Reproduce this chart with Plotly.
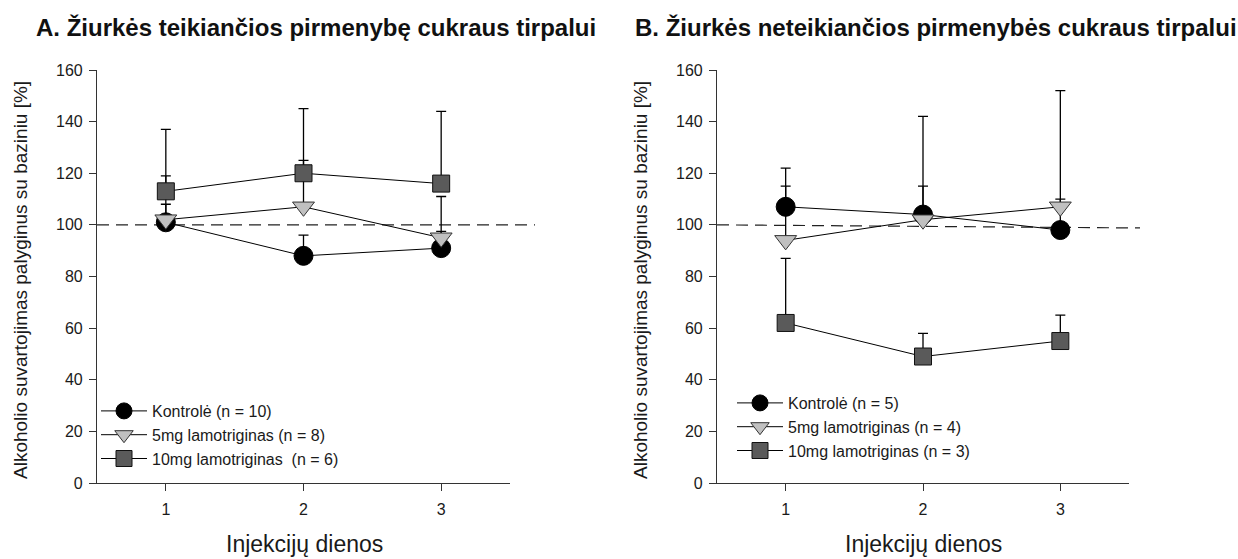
import plotly.graph_objects as go

# Injection days
days = [1, 2, 3]

# Panel A: rats preferring sugar solution (mean % of baseline, upper SEM)
a_kontrole = [101, 88, 91]
a_kontrole_err = [7, 8, 6.5]
a_5mg = [102, 107, 95]
a_5mg_err = [17, 18, 16]
a_10mg = [113, 120, 116]
a_10mg_err = [24, 25, 28]

# Panel B: rats not preferring sugar solution
b_kontrole = [107, 104, 98]
b_kontrole_err = [15, 38, 12]
b_5mg = [94, 102, 107]
b_5mg_err = [21, 13, 45]
b_10mg = [62, 49, 55]
b_10mg_err = [25, 9, 10]

y_ticks = [0, 20, 40, 60, 80, 100, 120, 140, 160]
baseline = 100

names_a = ["Kontrolė (n = 10)", "5mg lamotriginas (n = 8)", "10mg lamotriginas  (n = 6)"]
names_b = ["Kontrolė (n = 5)", "5mg lamotriginas (n = 4)", "10mg lamotriginas (n = 3)"]

FONT = "Arial, Liberation Sans, sans-serif"
W, H = 1238, 559

styles = [
    dict(symbol="circle", size=19, color="#000000", line=dict(color="#000000", width=1)),
    dict(symbol="triangle-down", size=19, color="#c0c0c0", line=dict(color="#333333", width=1)),
    dict(symbol="square", size=17, color="#5a5a5a", line=dict(color="#111111", width=1)),
]

fig = go.Figure()


def add_series(xa, ya, values, errs, name, style, legend, group):
    fig.add_trace(go.Scatter(
        x=days, y=values, mode="lines+markers", name=name,
        xaxis=xa, yaxis=ya, legend=legend, legendgroup=group,
        line=dict(color="#000000", width=1),
        marker=style,
        error_y=dict(type="data", symmetric=False, array=errs,
                     arrayminus=[0] * len(errs), color="#000000",
                     thickness=1.3, width=5),
        cliponaxis=False,
    ))


panel_a = [(a_kontrole, a_kontrole_err), (a_5mg, a_5mg_err), (a_10mg, a_10mg_err)]
panel_b = [(b_kontrole, b_kontrole_err), (b_5mg, b_5mg_err), (b_10mg, b_10mg_err)]

for i, (vals, errs) in enumerate(panel_a):
    add_series("x", "y", vals, errs, names_a[i], styles[i], "legend", f"a{i}")
for i, (vals, errs) in enumerate(panel_b):
    add_series("x2", "y2", vals, errs, names_b[i], styles[i], "legend2", f"b{i}")

# pixel layout of the two plot areas
xa_dom = [97 / W, 510 / W]
xb_dom = [717 / W, 1129 / W]
y_dom = [1 - 483 / H, 1 - 70 / H]

axis_common = dict(
    showline=True, linecolor="#333333", linewidth=1.2,
    ticks="outside", ticklen=7, tickcolor="#333333", tickwidth=1,
    showgrid=False, zeroline=False, automargin=False,
    tickfont=dict(family=FONT, size=16, color="#1a1a1a"),
)

legend_font = dict(family=FONT, size=16, color="#1a1a1a")

fig.update_layout(
    width=W, height=H,
    margin=dict(l=0, r=0, t=0, b=0, autoexpand=False),
    paper_bgcolor="white", plot_bgcolor="white",
    showlegend=True,
    xaxis=dict(domain=xa_dom, range=[0.5, 3.5], tickvals=days,
               ticklabelstandoff=5, anchor="y", **axis_common),
    yaxis=dict(domain=y_dom, range=[0, 160], tickvals=y_ticks,
               ticklabelstandoff=3, anchor="x", **axis_common),
    xaxis2=dict(domain=xb_dom, range=[0.5, 3.5], tickvals=days,
                ticklabelstandoff=5, anchor="y2", **axis_common),
    yaxis2=dict(domain=y_dom, range=[0, 160], tickvals=y_ticks,
                ticklabelstandoff=3, anchor="x2", **axis_common),
    legend=dict(x=96 / W, y=1 - 394 / H, xanchor="left", yanchor="top",
                bgcolor="rgba(0,0,0,0)", tracegroupgap=0, itemwidth=46,
                font=legend_font),
    legend2=dict(x=732 / W, y=1 - 386 / H, xanchor="left", yanchor="top",
                 bgcolor="rgba(0,0,0,0)", tracegroupgap=0, itemwidth=46,
                 font=legend_font),
)

# dashed baseline at 100 %
dash_style = dict(color="#222222", width=1.2, dash="12px,7px")
fig.add_shape(type="line", xref="paper", yref="y", layer="below",
              x0=97 / W, x1=535 / W, y0=baseline, y1=baseline, line=dash_style)
fig.add_shape(type="line", xref="paper", yref="y2", layer="below",
              x0=717 / W, x1=1140 / W, y0=baseline, y1=baseline - 1.2, line=dash_style)

# panel titles
title_font = dict(family=FONT, size=24, color="#111111")
fig.add_annotation(text="<b>A. Žiurkės teikiančios pirmenybę cukraus tirpalui</b>",
                   xref="paper", yref="paper", x=316 / W, y=1 - 28 / H,
                   showarrow=False, xanchor="center", yanchor="middle", font=title_font)
fig.add_annotation(text="<b>B. Žiurkės neteikiančios pirmenybės cukraus tirpalui</b>",
                   xref="paper", yref="paper", x=936 / W, y=1 - 28 / H,
                   showarrow=False, xanchor="center", yanchor="middle", font=title_font)

# axis titles
ytitle = "Alkoholio suvartojimas palyginus su baziniu [%]"
for xp in (20, 640):
    fig.add_annotation(text=ytitle, xref="paper", yref="paper",
                       x=xp / W, y=1 - 280 / H, textangle=-90, showarrow=False,
                       xanchor="center", yanchor="middle",
                       font=dict(family=FONT, size=19, color="#1a1a1a"))
for xp in (304, 923):
    fig.add_annotation(text="Injekcijų dienos", xref="paper", yref="paper",
                       x=xp / W, y=1 - 544 / H, showarrow=False,
                       xanchor="center", yanchor="middle",
                       font=dict(family=FONT, size=23, color="#1a1a1a"))

fig.write_html("out.html")
